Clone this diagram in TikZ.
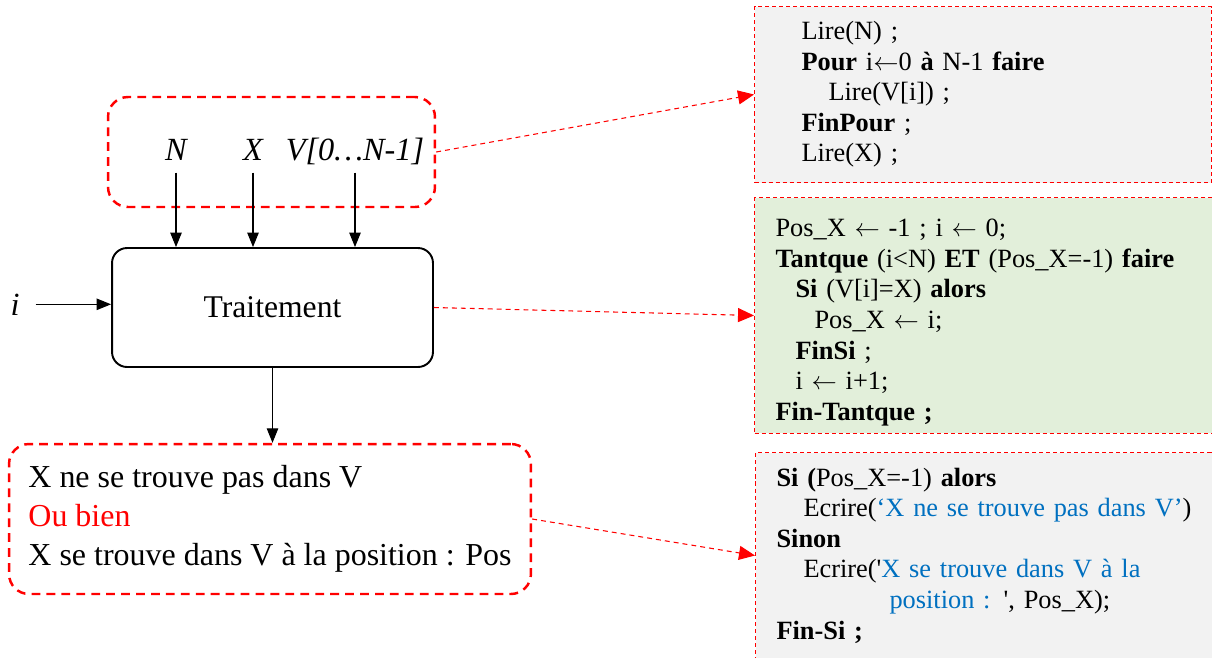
\documentclass[tikz,border=0pt]{standalone}
\usepackage{fontspec}
\setmainfont{Liberation Serif}[Ligatures=TeXOff]
\usetikzlibrary{arrows.meta,positioning}
\definecolor{bleu}{HTML}{0070C0}
\definecolor{gris}{HTML}{F2F2F2}
\definecolor{vert}{HTML}{E2EFDA}
\newcommand{\fl}{\ensuremath{\leftarrow}}
\tikzset{
  cadre/.style={draw=red,line width=1.4pt,dash pattern=on 5pt off 3.5pt,rounded corners=0.4cm},
  fleche/.style={-{Triangle[length=0.29cm,width=0.23cm]},line width=0.6pt},
  lien/.style={red,line width=0.6pt,dash pattern=on 2.8pt off 2.3pt,-{Triangle[length=0.32cm,width=0.28cm]}},
  code/.style={draw=red,line width=0.6pt,dash pattern=on 2.3pt off 1.7pt,anchor=north west,align=left,
    font=\fontsize{15}{17.4}\selectfont},
  lbl/.style={font=\fontsize{18.4}{22}\selectfont\itshape,text depth=0pt,inner sep=7pt,anchor=base}
}
\begin{document}
\begin{tikzpicture}[x=0.02cm,y=-0.02cm]
\useasboundingbox (0,0) rectangle (1212,657);
% les entrees et le traitement
\node[cadre,minimum width=6.54cm,minimum height=2.2cm] (inp) at (271.5,152) {};
\node[draw,line width=1.1pt,rounded corners=0.3cm,minimum width=6.42cm,minimum height=2.38cm,
  font=\fontsize{18}{22}\selectfont] (trt) at (272.5,307.5) {Traitement};
\foreach \nom/\x/\txt in {N/176/N,X/253/X,V/355/{V[0…N-1]}}{
  \node[lbl] (\nom) at (\x,160) {\txt};
  \draw[fleche] (\nom.south) -- (\nom.south |- trt.north);}
\node[lbl] (i) at (15,315) {i};
\draw[fleche] ([xshift=2pt]i.east) -- (i.east -| trt.west);
% le resultat
\node[cadre,minimum width=10.44cm,minimum height=3cm,align=left,
  font=\fontsize{18.2}{22.3}\selectfont] (res) at (270,519)
  {X ne se trouve pas dans V\\ \textcolor{red}{Ou bien}\\ X se trouve dans V à la position : Pos};
\draw[fleche] (trt.south) -- (trt.south |- res.north);
% les algorithmes
\node[code,fill=gris,minimum width=9.14cm,minimum height=3.52cm,text width=7.26cm,inner xsep=0.94cm] (lire) at (754,6)
  {Lire(N) ;\\ \textbf{Pour} i\fl0 \textbf{à} N-1 \textbf{faire}\\ \hspace*{0.54cm}Lire(V[i]) ;\\
   \textbf{FinPour} ;\\ Lire(X) ;};
\node[code,fill=vert,minimum width=9.6cm,minimum height=4.72cm,text width=8.76cm,inner xsep=0.42cm] (tq) at (754,197)
  {\rule{0pt}{18pt}Pos\_X \fl{} -1 ; i \fl{} 0;\\ \textbf{Tantque} (i<N) \textbf{ET} (Pos\_X=-1) \textbf{faire}\\
   \hspace*{0.4cm}\textbf{Si} (V[i]=X) \textbf{alors}\\ \hspace*{0.78cm}Pos\_X \fl{} i;\\
   \hspace*{0.4cm}\textbf{FinSi} ;\\ \hspace*{0.4cm}i \fl{} i+1;\\ \textbf{Fin-Tantque ;}};
\node[code,fill=gris,minimum width=9.6cm,minimum height=4.12cm,text width=8.76cm,inner xsep=0.42cm] (ecr) at (755,452)
  {\textbf{Si (}Pos\_X=-1) \textbf{alors}\\ \hspace*{0.54cm}Ecrire(\textcolor{bleu}{‘X ne se trouve pas dans V’})\\
   \textbf{Sinon}\\ \hspace*{0.54cm}Ecrire('\textcolor{bleu}{X se trouve dans V à la}\\
   \hspace*{2.26cm}\textcolor{bleu}{position :} ', Pos\_X);\\ \textbf{Fin-Si ;}};
\draw[lien] (inp.east) -- (lire.west);
\draw[lien] (trt.east) -- (tq.west);
\draw[lien] (res.east) -- (ecr.west);
\end{tikzpicture}
\end{document}
